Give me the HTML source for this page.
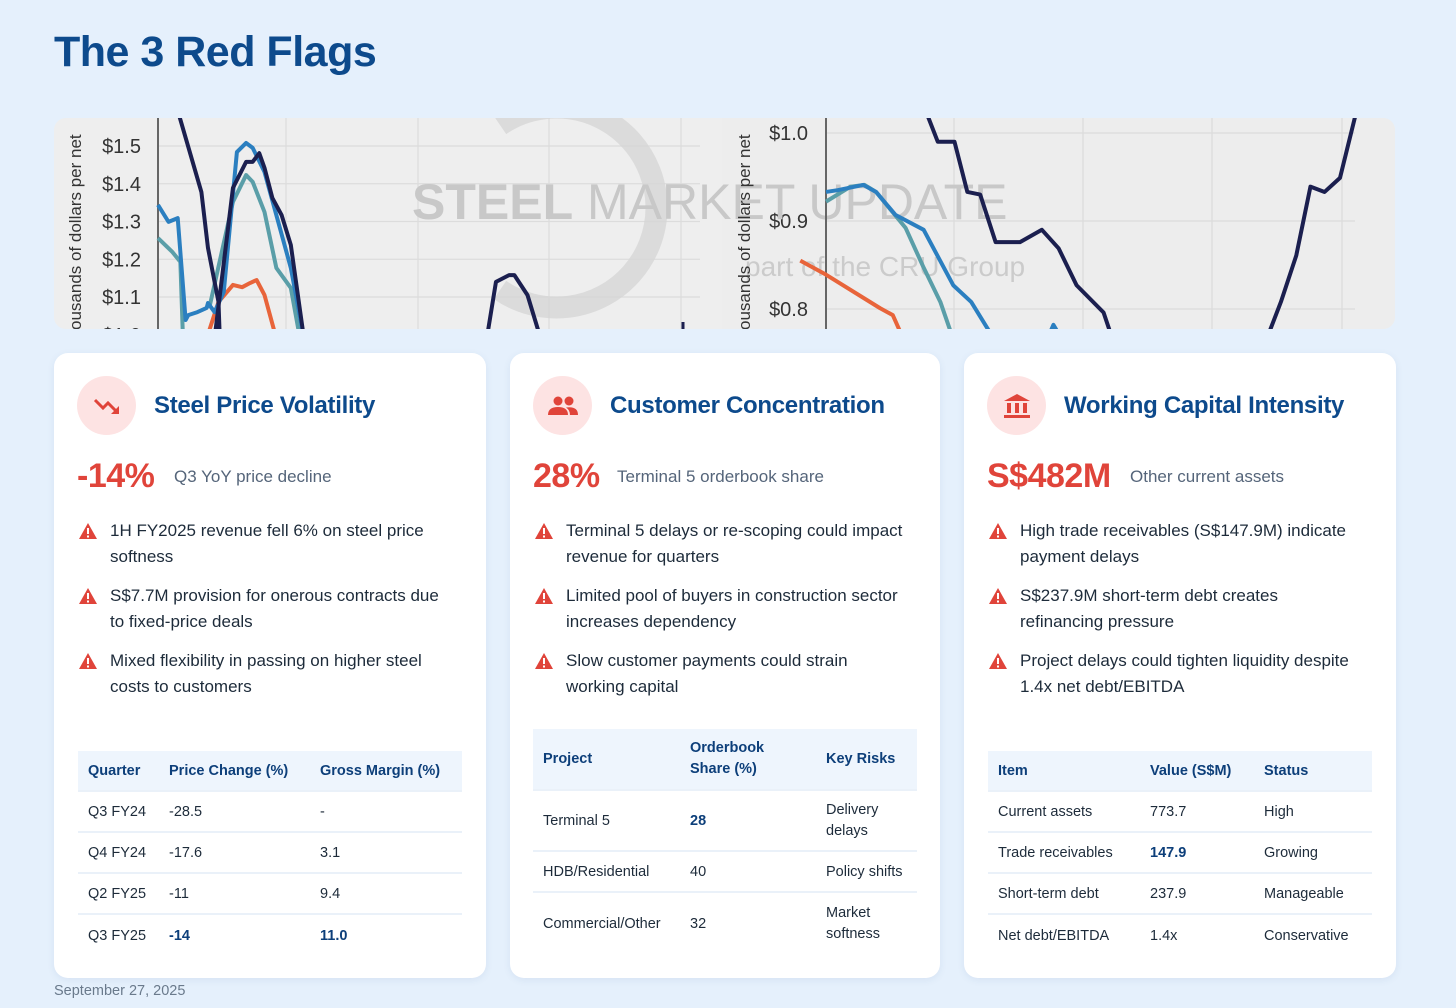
<!DOCTYPE html>
<html><head><meta charset="utf-8">
<style>
*{margin:0;padding:0;box-sizing:border-box}
body{width:1456px;height:1008px;background:#e5f0fc;font-family:"Liberation Sans",Arial,sans-serif;position:relative;overflow:hidden;color:#1d2b3a}
.abs{position:absolute}
h1{position:absolute;left:54px;top:28px;font-size:43px;font-weight:700;color:#0d4a8c;letter-spacing:-0.5px}
.card{position:absolute;top:353px;height:625px;background:#fff;border-radius:14px;box-shadow:0 2px 8px rgba(40,80,140,0.08)}
.icon{position:absolute;left:23px;top:23px;width:59px;height:59px;border-radius:50%;background:#fde3e3;display:flex;align-items:center;justify-content:center}
.ctitle{position:absolute;left:100px;top:39px;font-size:24px;font-weight:700;color:#0d4a8c;letter-spacing:-0.3px}
.big{position:absolute;left:23px;top:104px;font-size:34px;font-weight:700;color:#e0443a;letter-spacing:-0.5px}
.sub{position:absolute;top:114px;font-size:17px;color:#55657a}
.bul{position:absolute;left:24px;width:370px;font-size:17px;line-height:26px;color:#1d2b3a;padding-left:32px}
.bul svg{position:absolute;left:0;top:4px}
table{position:absolute;border-collapse:collapse;font-size:14.5px;color:#1d2b3a}
th{background:#eef5fd;color:#0d3f7a;text-align:left;font-weight:700;padding:0 10px}
td{padding:0 10px;border-top:2px solid #eaf1f9}
.bold{font-weight:700;color:#0d3f7a}
.date{position:absolute;left:54px;top:983px;font-size:14.5px;color:#6a7a8c}
</style></head><body>
<h1>The 3 Red Flags</h1>

<svg class="abs" style="left:0;top:0" width="1456" height="340" id="banner">
<defs><clipPath id="bc"><rect x="54" y="118" width="1341" height="211" rx="12"/></clipPath></defs>
<g clip-path="url(#bc)" id="bg">
<rect x="54" y="118" width="1341" height="211" fill="#eeeeee"/>
</g>
</svg>

<div class="card" style="left:54px;width:432px">
 <div class="icon"><svg width="30" height="24" viewBox="0 0 30 24"><polyline points="3,6 11,14 16,9 25,18" fill="none" stroke="#e0443a" stroke-width="3"/><polygon points="27,20 19,20 27,12" fill="#e0443a"/></svg></div>
 <div class="ctitle">Steel Price Volatility</div>
 <div class="big">-14%</div>
 <div class="sub" style="left:120px">Q3 YoY price decline</div>
 <div class="bul" style="top:165px"><svg width="20" height="18"><polygon points="10,1 19,17 1,17" fill="#e0443a"/><rect x="9" y="6" width="2" height="6" fill="#fff"/><rect x="9" y="13.5" width="2" height="2" fill="#fff"/></svg>1H FY2025 revenue fell 6% on steel price softness</div>
 <div class="bul" style="top:230px"><svg width="20" height="18"><polygon points="10,1 19,17 1,17" fill="#e0443a"/><rect x="9" y="6" width="2" height="6" fill="#fff"/><rect x="9" y="13.5" width="2" height="2" fill="#fff"/></svg>S$7.7M provision for onerous contracts due to fixed-price deals</div>
 <div class="bul" style="top:295px"><svg width="20" height="18"><polygon points="10,1 19,17 1,17" fill="#e0443a"/><rect x="9" y="6" width="2" height="6" fill="#fff"/><rect x="9" y="13.5" width="2" height="2" fill="#fff"/></svg>Mixed flexibility in passing on higher steel costs to customers</div>
 <table style="left:24px;top:398px;width:384px">
  <tr style="height:40px"><th style="width:81px">Quarter</th><th style="width:151px">Price Change (%)</th><th>Gross Margin (%)</th></tr>
  <tr style="height:41px"><td>Q3 FY24</td><td>-28.5</td><td>-</td></tr>
  <tr style="height:41px"><td>Q4 FY24</td><td>-17.6</td><td>3.1</td></tr>
  <tr style="height:41px"><td>Q2 FY25</td><td>-11</td><td>9.4</td></tr>
  <tr style="height:42px"><td>Q3 FY25</td><td class="bold">-14</td><td class="bold">11.0</td></tr>
 </table>
</div>

<div class="card" style="left:510px;width:430px">
 <div class="icon"><svg width="32" height="22" viewBox="0 0 32 22"><circle cx="11" cy="6" r="4.5" fill="#e0443a"/><circle cx="22" cy="6" r="4.5" fill="#e0443a"/><path d="M1,20 Q1,12 11,12 Q21,12 21,20Z" fill="#e0443a"/><path d="M19,12.5 Q31,11 31,20 L23,20 Q23,15 19,12.5Z" fill="#e0443a"/></svg></div>
 <div class="ctitle">Customer Concentration</div>
 <div class="big">28%</div>
 <div class="sub" style="left:107px">Terminal 5 orderbook share</div>
 <div class="bul" style="top:165px"><svg width="20" height="18"><polygon points="10,1 19,17 1,17" fill="#e0443a"/><rect x="9" y="6" width="2" height="6" fill="#fff"/><rect x="9" y="13.5" width="2" height="2" fill="#fff"/></svg>Terminal 5 delays or re-scoping could impact revenue for quarters</div>
 <div class="bul" style="top:230px"><svg width="20" height="18"><polygon points="10,1 19,17 1,17" fill="#e0443a"/><rect x="9" y="6" width="2" height="6" fill="#fff"/><rect x="9" y="13.5" width="2" height="2" fill="#fff"/></svg>Limited pool of buyers in construction sector increases dependency</div>
 <div class="bul" style="top:295px"><svg width="20" height="18"><polygon points="10,1 19,17 1,17" fill="#e0443a"/><rect x="9" y="6" width="2" height="6" fill="#fff"/><rect x="9" y="13.5" width="2" height="2" fill="#fff"/></svg>Slow customer payments could strain working capital</div>
 <table style="left:23px;top:376px;width:384px">
  <tr style="height:61px"><th style="width:147px">Project</th><th style="width:136px;line-height:21px">Orderbook<br>Share (%)</th><th>Key Risks</th></tr>
  <tr style="height:61px"><td>Terminal 5</td><td class="bold">28</td><td style="line-height:21px">Delivery<br>delays</td></tr>
  <tr style="height:41px"><td>HDB/Residential</td><td>40</td><td>Policy shifts</td></tr>
  <tr style="height:63px"><td>Commercial/Other</td><td>32</td><td style="line-height:21px">Market<br>softness</td></tr>
 </table>
</div>

<div class="card" style="left:964px;width:432px">
 <div class="icon"><svg width="28" height="26" viewBox="0 0 28 26"><polygon points="14,1 27,8 1,8" fill="#e0443a"/><rect x="4" y="10" width="4" height="10" fill="#e0443a"/><rect x="12" y="10" width="4" height="10" fill="#e0443a"/><rect x="20" y="10" width="4" height="10" fill="#e0443a"/><rect x="1" y="22" width="26" height="3" fill="#e0443a"/></svg></div>
 <div class="ctitle">Working Capital Intensity</div>
 <div class="big">S$482M</div>
 <div class="sub" style="left:166px">Other current assets</div>
 <div class="bul" style="top:165px"><svg width="20" height="18"><polygon points="10,1 19,17 1,17" fill="#e0443a"/><rect x="9" y="6" width="2" height="6" fill="#fff"/><rect x="9" y="13.5" width="2" height="2" fill="#fff"/></svg>High trade receivables (S$147.9M) indicate payment delays</div>
 <div class="bul" style="top:230px"><svg width="20" height="18"><polygon points="10,1 19,17 1,17" fill="#e0443a"/><rect x="9" y="6" width="2" height="6" fill="#fff"/><rect x="9" y="13.5" width="2" height="2" fill="#fff"/></svg>S$237.9M short-term debt creates refinancing pressure</div>
 <div class="bul" style="top:295px"><svg width="20" height="18"><polygon points="10,1 19,17 1,17" fill="#e0443a"/><rect x="9" y="6" width="2" height="6" fill="#fff"/><rect x="9" y="13.5" width="2" height="2" fill="#fff"/></svg>Project delays could tighten liquidity despite 1.4x net debt/EBITDA</div>
 <table style="left:24px;top:398px;width:384px">
  <tr style="height:40px"><th style="width:152px">Item</th><th style="width:114px">Value (S$M)</th><th>Status</th></tr>
  <tr style="height:41px"><td>Current assets</td><td>773.7</td><td>High</td></tr>
  <tr style="height:41px"><td>Trade receivables</td><td class="bold">147.9</td><td>Growing</td></tr>
  <tr style="height:41px"><td>Short-term debt</td><td>237.9</td><td>Manageable</td></tr>
  <tr style="height:42px"><td>Net debt/EBITDA</td><td>1.4x</td><td>Conservative</td></tr>
 </table>
</div>

<div class="date">September 27, 2025</div>

<script>
// Left panel (weeks, $ thousands per net ton)
const leftNavyA = [[1.6,1.582],[3.3,1.378],[3.8,1.230],[4.6,1.087],[4.7,0.99]];
const leftNavyB = [[4.3,0.99],[5.7,1.389],[6.7,1.458],[7.2,1.458],[7.7,1.481],[8.1,1.442],[8.7,1.362],[9.4,1.317],[10.1,1.238],[11.1,0.99]];
const leftNavyC = [[25.0,0.99],[25.7,1.140],[26.7,1.158],[27.1,1.158],[28.1,1.105],[29.1,0.99]];
const leftBlue = [[0,1.344],[0.8,1.299],[1.5,1.309],[2.1,1.039],[2.3,1.052],[3.0,1.060],[3.7,1.071],[3.8,1.084],[4.3,1.060],[5.0,1.113],[6.0,1.484],[6.7,1.508],[7.2,1.495],[8.1,1.431],[9.0,1.317],[10.1,1.177],[11.1,0.99]];
const leftTealA = [[0,1.256],[1.1,1.219],[1.7,1.193],[1.9,0.99]];
const leftTealB = [[3.9,1.071],[5.7,1.352],[6.7,1.423],[7.2,1.405],[8.1,1.325],[9.0,1.177],[10.1,1.124],[10.8,0.99]];
const leftOrange = [[3.7,0.99],[4.6,1.087],[5.7,1.132],[6.4,1.126],[7.0,1.137],[7.5,1.145],[8.1,1.105],[9.0,0.99]];
const leftTicks = ["$1.5","$1.4","$1.3","$1.2","$1.1","$1.0"];
const leftTickVals = [1.5,1.4,1.3,1.2,1.1,1.0];
// Right panel
const rightNavyA = [[7.9,1.020],[8.7,0.990],[10.0,0.990],[11.0,0.933],[12.0,0.930],[13.2,0.876],[15.1,0.876],[16.8,0.890],[18.1,0.869],[19.5,0.827],[21.6,0.796],[22.2,0.77]];
const rightNavyB = [[34.4,0.77],[35.4,0.808],[36.6,0.861],[37.7,0.939],[38.8,0.933],[40.0,0.949],[41.2,1.02]];
const rightBlue = [[0,0.933],[0.9,0.935],[2.9,0.941],[3.9,0.933],[5.4,0.907],[7.6,0.890],[9.9,0.827],[11.3,0.808],[12.9,0.77]];
const rightBlueB = [[17.4,0.772],[17.7,0.782],[18.1,0.772]];
const rightTeal = [[0,0.922],[1.9,0.939],[3.0,0.941],[3.9,0.933],[6.2,0.892],[7.6,0.847],[8.9,0.808],[9.8,0.77]];
const rightOrange = [[-2,0.855],[0,0.839],[4.2,0.801],[5.2,0.793],[5.9,0.77]];
const rightTicks = ["$1.0","$0.9","$0.8"];
const rightTickVals = [1.0,0.9,0.8];

const NS="http://www.w3.org/2000/svg";
const g=document.getElementById('bg');
const lx=t=>158+t*13.15, ly=v=>146+(1.5-v)*377.5;
const rx=t=>826+t*12.85, ry=v=>133+(1.0-v)*880;
function mk(tag,attrs){const e=document.createElementNS(NS,tag);for(const k in attrs)e.setAttribute(k,attrs[k]);g.appendChild(e);return e;}
mk('rect',{x:722,y:118,width:673,height:211,fill:'#ededed'});
[286,418,549,681].forEach(x=>{const l=mk('line',{x1:x,y1:118,x2:x,y2:329,stroke:'#dcdcdc','stroke-width':1.2});

});
[954,1083,1212,1342].forEach(x=>{const l=mk('line',{x1:x,y1:118,x2:x,y2:329,stroke:'#dcdcdc','stroke-width':1.2});

});
leftTickVals.forEach((v,i)=>{mk('line',{x1:158,y1:ly(v),x2:700,y2:ly(v),stroke:'#dcdcdc','stroke-width':1.2});
const t=mk('text',{x:141,y:ly(v)+7,'text-anchor':'end','font-size':20,fill:'#333','font-family':'Liberation Sans, sans-serif'});t.textContent=leftTicks[i];

});
rightTickVals.forEach((v,i)=>{mk('line',{x1:826,y1:ry(v),x2:1355,y2:ry(v),stroke:'#dcdcdc','stroke-width':1.2});
const t=mk('text',{x:808,y:ry(v)+7,'text-anchor':'end','font-size':20,fill:'#333','font-family':'Liberation Sans, sans-serif'});t.textContent=rightTicks[i];

});
const arc=mk('path',{d:'M500,125 A100,100 0 1 1 500,290',fill:'none',stroke:'#d6d6d6','stroke-width':22,opacity:0.8});


const wm=mk('text',{x:412,y:219,'font-size':50,fill:'#c8c8c8','font-family':'Liberation Sans, sans-serif'});
wm.innerHTML='<tspan font-weight="700">STEEL</tspan> MARKET UPDATE';


const wm2=mk('text',{x:745,y:276,'font-size':28,fill:'#cbcbcb','font-family':'Liberation Sans, sans-serif'});
wm2.textContent='part of the CRU Group';


mk('line',{x1:158,y1:118,x2:158,y2:329,stroke:'#666','stroke-width':2});
mk('line',{x1:826,y1:118,x2:826,y2:329,stroke:'#666','stroke-width':2});
[[81,'left'],[750,'right']].forEach(([x,n])=>{const t=mk('text',{x:0,y:0,'font-size':17,fill:'#333','font-family':'Liberation Sans, sans-serif',transform:`translate(${x},330) rotate(-90)`});t.textContent='ousands of dollars per net';

});
function line(data,X,Y,color,name){const p=mk('polyline',{points:data.map(d=>X(d[0])+','+Y(d[1])).join(' '),fill:'none',stroke:color,'stroke-width':4,'stroke-linejoin':'round'});

}
line(leftOrange,lx,ly,'#e8643a','series-orange');
line(leftTealA,lx,ly,'#5a9ea8','series-teal');
line(leftTealB,lx,ly,'#5a9ea8','series-teal');
line(leftBlue,lx,ly,'#2b7fc0','series-blue');
line(leftNavyA,lx,ly,'#1b1f4f','series-navy');
line(leftNavyB,lx,ly,'#1b1f4f','series-navy');
line(leftNavyC,lx,ly,'#1b1f4f','series-navy');
mk('line',{x1:683,y1:322,x2:683,y2:329,stroke:'#1b1f4f','stroke-width':3});
line(rightOrange,rx,ry,'#e8643a','series-orange');
line(rightTeal,rx,ry,'#5a9ea8','series-teal');
line(rightBlue,rx,ry,'#2b7fc0','series-blue');
line(rightBlueB,rx,ry,'#2b7fc0','series-blue');
line(rightNavyA,rx,ry,'#1b1f4f','series-navy');
line(rightNavyB,rx,ry,'#1b1f4f','series-navy');
</script>
</body></html>
